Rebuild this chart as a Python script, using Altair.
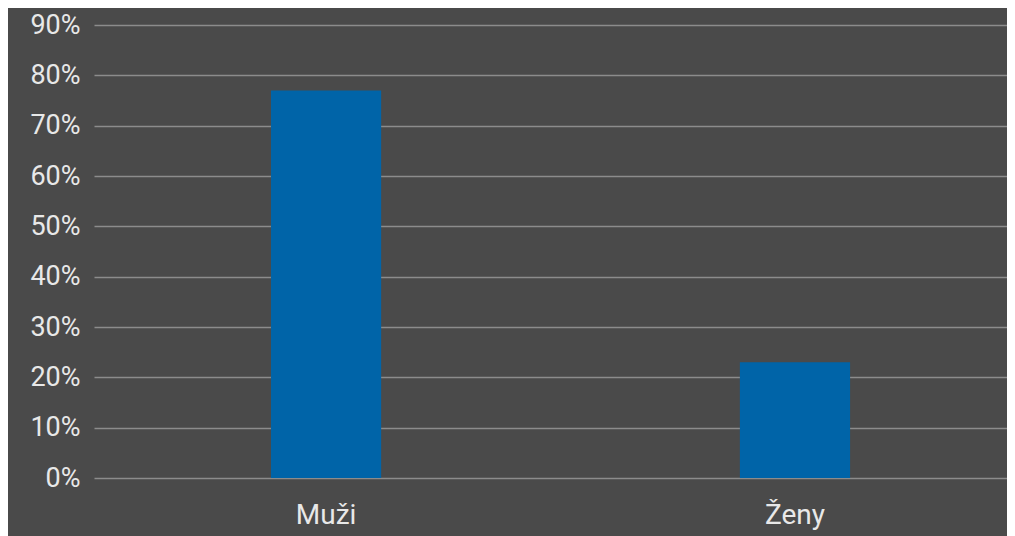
import altair as alt
import pandas as pd

categories = ["Muži", "Ženy"]
values = [0.77, 0.23]
y_ticks = [0, 0.1, 0.2, 0.3, 0.4, 0.5, 0.6, 0.7, 0.8, 0.9]

df = pd.DataFrame({"kategorie": categories, "podil": values})

chart = alt.Chart(df).mark_bar(color="#0064a8").encode(
    x=alt.X("kategorie:N", sort=categories,
            scale=alt.Scale(domain=categories, paddingInner=0.765, paddingOuter=0.356, align=0.53),
            axis=alt.Axis(title=None, labelAngle=0, labelPadding=23, ticks=False, domain=False,
                          labelFontSize=28, labelColor="#e8e8e8", labelFont="Roboto", grid=False)),
    y=alt.Y("podil:Q", scale=alt.Scale(domain=[0, 0.9], nice=False),
            axis=alt.Axis(title=None, values=y_ticks, format=".0%", ticks=False, domain=False,
                          labelFontSize=27, labelColor="#e8e8e8", labelFont="Roboto", labelPadding=14,
                          grid=True, gridColor="#8c8c8c", gridWidth=1.5)),
).properties(
    width=913, height=453,
    background="#4a4a4a",
    padding={"left": 86, "top": 17, "right": 0, "bottom": 60},
    autosize=alt.AutoSizeParams(type="none"),
).configure_view(stroke=None)

chart.save("out.html", embed_options={"renderer": "svg", "actions": False})
